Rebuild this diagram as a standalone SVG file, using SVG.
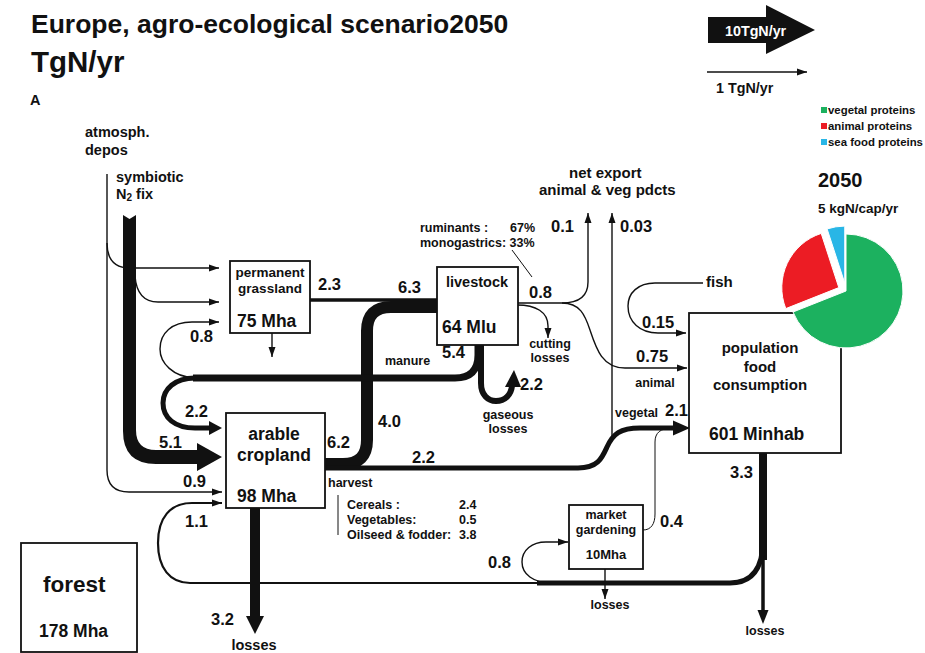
<svg xmlns="http://www.w3.org/2000/svg" width="925" height="653" viewBox="0 0 925 653">
<defs>
<style>
text{font-family:"Liberation Sans",Arial,Helvetica,sans-serif;font-weight:bold;fill:#111}
.ti{font-size:26.5px}
.n{font-size:16.5px}
.s{font-size:12.5px}
.m{font-size:14.5px}
.b{font-size:17.5px}
.c{text-anchor:middle}
.box{fill:#fff;stroke:#111;stroke-width:1.8}
.th{fill:none;stroke:#111;stroke-width:1.4}
.k{fill:none;stroke:#111}
.f{fill:#111}
.lg{font-size:11.4px}
</style>
<marker id="ah" markerUnits="userSpaceOnUse" markerWidth="10" markerHeight="8" refX="10" refY="4" orient="auto"><path d="M0,0.5L10,4L0,7.5z" fill="#111"/></marker>
</defs>
<rect width="925" height="653" fill="#fff"/>

<g id="title">
<text x="31" y="33" class="ti">Europe, agro-ecological scenario2050</text>
<text x="31" y="72" style="font-size:29.5px">TgN/yr</text>
<text x="30" y="105" style="font-size:14.5px">A</text>
</g>

<g id="scale">
<polygon points="708,17 766,17 766,5 815,30 766,54 766,43 708,43" class="f"/>
<text x="725" y="36" style="font-size:14.3px;fill:#fff">10TgN/yr</text>
<line x1="707" y1="72" x2="807" y2="72" class="th" marker-end="url(#ah)"/>
<text x="716" y="93" style="font-size:14.3px">1 TgN/yr</text>
</g>

<g id="connectors">
<path d="M107,174 V470 Q107,492 129,492 H222" class="th" marker-end="url(#ah)"/>
<path d="M107,243 Q107,268 130,268 H219" class="th" marker-end="url(#ah)"/>
<path d="M135,276 Q137,302 158,302 H219" class="th" marker-end="url(#ah)"/>
<path d="M123,215 L129.5,219 L136,215 V430 Q136,450 156,450 H197 V443 L222,457 L197,471 V464 H156 Q123,464 123,431 Z" class="f"/>
<path d="M310,300 H437" class="k" stroke-width="3.5"/>
<path d="M325,464 H343 Q367,464 367,440 V331 Q367,307 391,307 H437" class="k" stroke-width="12"/>
<path d="M325,468 H578 C598,468 602,458 607,447 C613,434 620,428 640,428 H676" class="k" stroke-width="5"/>
<polygon points="673,420.5 690,428 673,435.5" class="f"/>
<path d="M612,440 V213" class="th" marker-end="url(#ah)"/>
<path d="M272,333 V357" class="th" marker-end="url(#ah)"/>
<path d="M478,345 V355 Q478,378 455,378 H193" class="k" stroke-width="7"/>
<path d="M481,345 V383 C481,395 488,401 496,401 C505,401 511,395 512,386" class="k" stroke-width="6"/>
<polygon points="505,387 514,370 521,387" class="f"/>
<path d="M195,378 C173,377 160,363 160,349 C160,333 172,322 192,322 H219" class="th" marker-end="url(#ah)"/>
<path d="M195,378 C175,378 163,389 163,403 C163,418 175,428 195,428 H212" class="k" stroke-width="5"/>
<polygon points="209,421 222,428 209,435" class="f"/>
<path d="M517,303 H562 C580,303 588,296 588,282 V213" class="th" marker-end="url(#ah)"/>
<path d="M562,303 C580,303 585,315 590,330 C596,348 602,368 625,368 H687" class="th" marker-end="url(#ah)"/>
<path d="M517,305 C536,305 548,312 548,326 V338" class="th" marker-end="url(#ah)"/>
<path d="M703,283 H655 C638,283 628,293 628,306 C628,322 640,333 658,333 H686" class="th" marker-end="url(#ah)"/>
<path d="M763,453 V560" class="k" stroke-width="8"/>
<path d="M763,555 V612" class="k" stroke-width="3.5"/>
<polygon points="757.5,610 768.5,610 763,624" class="f"/>
<path d="M763,540 Q763,583 730,583 H537" class="k" stroke-width="5"/>
<path d="M540,583 H190 C170,583 158,568 158,543 C158,518 170,503 192,503 H222" class="k" stroke-width="2.2" marker-end="url(#ah)"/>
<path d="M552,583 C533,583 522,574 522,562 C522,550 532,542 546,542 H568" class="th" marker-end="url(#ah)"/>
<path d="M643,530 C651,530 655,524 655,514 V442 C655,433 660,428 673,428" class="k" stroke-width="1"/>
<path d="M605,569 V599" class="th" marker-end="url(#ah)"/>
<path d="M255,508 V618" class="k" stroke-width="10"/>
<polygon points="246,616 264,616 255,634" class="f"/>
<path d="M338,495 V535" class="k" stroke-width="1"/>
<path d="M512,250 L532,277" class="k" stroke-width="1"/>
</g>

<g id="flow-labels">
<text x="190" y="342" class="n">0.8</text>
<text x="185" y="417" class="n">2.2</text>
<text x="159" y="448" class="n">5.1</text>
<text x="183" y="487" class="n">0.9</text>
<text x="185" y="527" class="n">1.1</text>
<text x="211" y="625" class="n">3.2</text>
<text x="254" y="650" class="m c">losses</text>
<text x="318" y="290" class="n">2.3</text>
<text x="398" y="293" class="n">6.3</text>
<text x="327" y="448" class="n">6.2</text>
<text x="378" y="427" class="n">4.0</text>
<text x="412" y="463" class="n">2.2</text>
<text x="385" y="365" class="s">manure</text>
<text x="442" y="358" class="n">5.4</text>
<text x="520" y="390" class="n">2.2</text>
<text x="508" y="419" class="s c">gaseous</text>
<text x="508" y="433" class="s c">losses</text>
<text x="529" y="298" class="n">0.8</text>
<text x="550" y="348" class="s c">cutting</text>
<text x="550" y="362" class="s c">losses</text>
<text x="551" y="232" class="n">0.1</text>
<text x="620" y="232" class="n">0.03</text>
<text x="642" y="328" class="n">0.15</text>
<text x="636" y="362" class="n">0.75</text>
<text x="655" y="387" class="s c">animal</text>
<text x="615" y="417" class="s">vegetal</text>
<text x="665" y="416" class="n">2.1</text>
<text x="660" y="527" class="n">0.4</text>
<text x="488" y="568" class="n">0.8</text>
<text x="610" y="609" class="s c">losses</text>
<text x="730" y="478" class="n">3.3</text>
<text x="765" y="635" class="s c">losses</text>
<text x="706" y="287" style="font-size:15px">fish</text>
</g>

<g id="inputs">
<text x="85" y="137" class="m">atmosph.</text>
<text x="85" y="155" class="m">depos</text>
<text x="116" y="182" class="m">symbiotic</text>
<text x="116" y="199" class="m">N<tspan style="font-size:10px" dy="2">2</tspan><tspan dy="-2"> fix</tspan></text>
</g>

<g id="net-export">
<text x="569" y="178" style="font-size:15px">net export</text>
<text x="539" y="195" style="font-size:15px">animal &amp; veg pdcts</text>
</g>

<g id="livestock-shares">
<text x="420" y="232" class="s">ruminants :</text>
<text x="510" y="232" class="s">67%</text>
<text x="420" y="247" class="s">monogastrics: 33%</text>
</g>

<g id="harvest">
<text x="328" y="487" class="s">harvest</text>
<text x="347" y="509" class="s">Cereals :</text>
<text x="347" y="524" class="s">Vegetables:</text>
<text x="347" y="539" class="s">Oilseed &amp; fodder:</text>
<text x="459" y="509" class="s">2.4</text>
<text x="459" y="524" class="s">0.5</text>
<text x="459" y="539" class="s">3.8</text>
</g>

<g id="grassland">
<rect x="230" y="261" width="80" height="72" class="box"/>
<text x="270" y="277" class="c" style="font-size:13.5px">permanent</text>
<text x="270" y="293" class="c" style="font-size:13.5px">grassland</text>
<text x="237" y="327" class="b">75 Mha</text>
</g>

<g id="livestock">
<rect x="437" y="267" width="81" height="78" class="box"/>
<text x="477" y="287" class="m c">livestock</text>
<text x="442" y="333" class="b">64 Mlu</text>
</g>

<g id="arable">
<rect x="226" y="413" width="99" height="95" class="box"/>
<text x="274" y="440" class="b c">arable</text>
<text x="274" y="461" class="b c">cropland</text>
<text x="237" y="502" class="b">98 Mha</text>
</g>

<g id="market">
<rect x="569" y="505" width="74" height="64" class="box"/>
<text x="606" y="519" class="c" style="font-size:12.5px">market</text>
<text x="606" y="533.5" class="c" style="font-size:12.5px">gardening</text>
<text x="606" y="559" class="c" style="font-size:13px">10Mha</text>
</g>

<g id="forest">
<rect x="21" y="543" width="116" height="109" class="box"/>
<text x="43" y="592" style="font-size:22.5px">forest</text>
<text x="39" y="637" class="b">178 Mha</text>
</g>

<g id="population">
<rect x="689" y="313" width="152" height="140" class="box"/>
<text x="760" y="353" class="c" style="font-size:15px">population</text>
<text x="760" y="372" class="c" style="font-size:15px">food</text>
<text x="760" y="390" class="c" style="font-size:15px">consumption</text>
<text x="709" y="440" class="b">601 Minhab</text>
</g>

<g id="pie" stroke="#fff" stroke-width="1">
<path d="M846,291 L846,234 A57,57 0 1 1 793,312 Z" fill="#1cb15f"/>
<path d="M838.8,287.6 L785.8,308.6 A57,57 0 0 1 821.2,233.4 Z" fill="#ec1c24"/>
<path d="M844.75,283.1 L827.1,228.9 A57,57 0 0 1 844.75,226.1 Z" fill="#29b6e6"/>
</g>

<g id="pie-title">
<text x="818" y="187" style="font-size:20px">2050</text>
<text x="818" y="213" style="font-size:13.5px">5 kgN/cap/yr</text>
</g>

<g id="legend">
<rect x="821" y="107" width="6" height="6" fill="#1cb15f"/>
<rect x="821" y="123" width="6" height="6" fill="#ec1c24"/>
<rect x="821" y="139" width="6" height="6" fill="#29b6e6"/>
<text x="828" y="114" class="lg">vegetal proteins</text>
<text x="828" y="130" class="lg">animal proteins</text>
<text x="828" y="146" class="lg">sea food proteins</text>
</g>
</svg>
